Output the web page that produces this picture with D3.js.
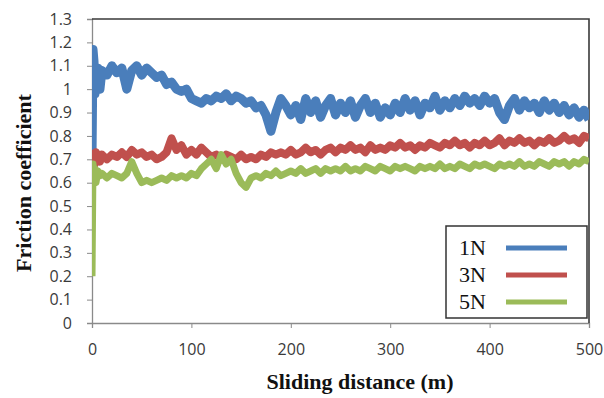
<!DOCTYPE html>
<html>
<head>
<meta charset="utf-8">
<script src="https://cdn.jsdelivr.net/npm/d3@7"></script>
<style>
  body { margin: 0; background: #fff; }
  .title { font-family: "Liberation Serif", "Times New Roman", serif; font-weight: bold; font-size: 22px; fill: #111; }
  .leg { font-family: "Liberation Serif", "Times New Roman", serif; font-size: 22px; fill: #111; }
</style>
</head>
<body>
<svg width="604" height="398"></svg>
<script>
// sliding distance (m), finer at the start where the run-in happens
const distance = [0, 1, 2, 3, 4, 6, 8, 10, 15, 20, 25, 30, 35, 40, 45, 50, 55, 60, 65, 70, 75, 80, 85, 90, 95,
  100, 105, 110, 115, 120, 125, 130, 135, 140, 145, 150, 155, 160, 165, 170, 175, 180, 185, 190, 195,
  200, 205, 210, 215, 220, 225, 230, 235, 240, 245, 250, 255, 260, 265, 270, 275, 280, 285, 290, 295,
  300, 305, 310, 315, 320, 325, 330, 335, 340, 345, 350, 355, 360, 365, 370, 375, 380, 385, 390, 395,
  400, 405, 410, 415, 420, 425, 430, 435, 440, 445, 450, 455, 460, 465, 470, 475, 480, 485, 490, 495, 500];

const mu1N = [0.70, 1.17, 1.12, 0.98, 1.04, 1.09, 1.00, 1.08, 1.06, 1.10, 1.07, 1.09, 1.00, 1.08, 1.10, 1.06, 1.09, 1.07, 1.05, 1.06, 1.02, 1.03, 1.00, 0.99, 1.00,
  0.96, 0.95, 0.94, 0.96, 0.95, 0.97, 0.96, 0.98, 0.95, 0.97, 0.96, 0.94, 0.95, 0.92, 0.93, 0.89, 0.82, 0.90, 0.96, 0.93,
  0.89, 0.93, 0.87, 0.96, 0.90, 0.95, 0.88, 0.93, 0.96, 0.89, 0.94, 0.90, 0.95, 0.88, 0.93, 0.96, 0.90, 0.94, 0.88, 0.92,
  0.89, 0.94, 0.90, 0.96, 0.91, 0.95, 0.89, 0.94, 0.92, 0.97, 0.91, 0.95, 0.92, 0.96, 0.93, 0.97, 0.94, 0.96, 0.93, 0.97,
  0.94, 0.96, 0.90, 0.87, 0.93, 0.96, 0.91, 0.95, 0.92, 0.94, 0.90, 0.95, 0.91, 0.94, 0.90, 0.93, 0.89, 0.92, 0.88, 0.91, 0.87];

const mu3N = [0.74, 0.70, 0.67, 0.69, 0.73, 0.71, 0.69, 0.72, 0.70, 0.72, 0.71, 0.73, 0.71, 0.74, 0.72, 0.73, 0.71, 0.72, 0.70, 0.71, 0.73, 0.79, 0.74, 0.76, 0.72,
  0.74, 0.72, 0.75, 0.73, 0.71, 0.72, 0.70, 0.72, 0.71, 0.70, 0.72, 0.70, 0.71, 0.70, 0.72, 0.71, 0.73, 0.72, 0.73, 0.72,
  0.74, 0.72, 0.73, 0.75, 0.73, 0.74, 0.72, 0.74, 0.75, 0.73, 0.75, 0.74, 0.76, 0.74, 0.75, 0.73, 0.76, 0.74, 0.75, 0.74,
  0.76, 0.75, 0.77, 0.75, 0.76, 0.74, 0.76, 0.75, 0.77, 0.76, 0.75, 0.77, 0.76, 0.78, 0.76, 0.77, 0.75, 0.77, 0.76, 0.78,
  0.76, 0.77, 0.79, 0.76, 0.78, 0.77, 0.79, 0.77, 0.78, 0.76, 0.78, 0.77, 0.79, 0.77, 0.78, 0.80, 0.78, 0.79, 0.77, 0.80, 0.79];

const mu5N = [0.20, 0.68, 0.62, 0.66, 0.60, 0.65, 0.63, 0.64, 0.62, 0.64, 0.63, 0.62, 0.64, 0.69, 0.64, 0.60, 0.61, 0.60, 0.61, 0.62, 0.61, 0.63, 0.62, 0.63, 0.62,
  0.64, 0.63, 0.66, 0.68, 0.70, 0.66, 0.72, 0.68, 0.70, 0.64, 0.60, 0.58, 0.62, 0.63, 0.62, 0.64, 0.63, 0.65, 0.63, 0.64,
  0.65, 0.64, 0.66, 0.64, 0.65, 0.66, 0.64, 0.66, 0.65, 0.66, 0.65, 0.67, 0.65, 0.66, 0.65, 0.67, 0.66, 0.65, 0.67, 0.66,
  0.65, 0.67, 0.66, 0.67, 0.66, 0.65, 0.67, 0.66, 0.67, 0.66, 0.68, 0.66, 0.67, 0.66, 0.68, 0.67, 0.66, 0.68, 0.67, 0.68,
  0.67, 0.66, 0.68, 0.67, 0.68, 0.67, 0.69, 0.67, 0.68, 0.67, 0.69, 0.68, 0.67, 0.69, 0.68, 0.69, 0.67, 0.69, 0.68, 0.70, 0.69];

const seriesNames = ['1N', '3N', '5N'];
const seriesColors = ['#4a7ebb', '#c0504d', '#9bbb59'];
const seriesWidths = [9, 8, 7];
const yTicks = [0, 0.1, 0.2, 0.3, 0.4, 0.5, 0.6, 0.7, 0.8, 0.9, 1, 1.1, 1.2, 1.3];
const xTicks = [0, 100, 200, 300, 400, 500];

const svg = d3.select('svg');
const margin = {top: 19, right: 15, bottom: 75, left: 92};
const innerWidth = 604 - margin.left - margin.right;
const innerHeight = 398 - margin.top - margin.bottom;

const xScale = d3.scaleLinear().domain([0, 500]).range([0, innerWidth]);
const yScale = d3.scaleLinear().domain([0, 1.3]).range([innerHeight, 0]);

const g = svg.append('g')
  .attr('transform', `translate(${margin.left}, ${margin.top})`);

g.append('clipPath').attr('id', 'plot')
  .append('rect').attr('width', innerWidth).attr('height', innerHeight);

// y axis
const yAxis = g.append('g')
  .call(d3.axisLeft(yScale).tickValues(yTicks).tickSize(5).tickPadding(15)
    .tickFormat(d => String(+d.toFixed(1))));
yAxis.select('.domain').attr('stroke', '#8a8a8a').attr('stroke-width', 1.3);
yAxis.selectAll('.tick line').attr('stroke', '#8a8a8a');

// x axis
const xAxis = g.append('g')
  .attr('transform', `translate(0, ${innerHeight})`)
  .call(d3.axisBottom(xScale).tickValues(xTicks).tickSize(5).tickPadding(16));
xAxis.select('.domain').attr('stroke', '#8a8a8a').attr('stroke-width', 1.3);
xAxis.selectAll('.tick line').attr('stroke', '#8a8a8a');

[yAxis, xAxis].forEach(a => a.selectAll('text')
  .style('font-family', '"Open Sans", sans-serif')
  .style('font-size', '16px')
  .style('fill', '#3a3a3a'));

// top and right frame
g.append('path')
  .attr('d', `M0,0H${innerWidth}V${innerHeight}`)
  .attr('fill', 'none').attr('stroke', '#3a3a3a').attr('stroke-width', 1.6);

const series = [mu1N, mu3N, mu5N];
const line = d3.line()
  .x((d, i) => xScale(distance[i]))
  .y(d => yScale(d));

g.append('g').attr('clip-path', 'url(#plot)')
  .selectAll('path').data(series).enter().append('path')
  .attr('d', line)
  .attr('fill', 'none')
  .attr('stroke', (d, i) => seriesColors[i])
  .attr('stroke-width', (d, i) => seriesWidths[i])
  .attr('stroke-linejoin', 'round');

// legend
const leg = svg.append('g').attr('transform', 'translate(446, 226)');
leg.append('rect').attr('width', 141).attr('height', 92)
  .attr('fill', '#fff').attr('stroke', '#333').attr('stroke-width', 1.5);
seriesNames.forEach((name, i) => {
  leg.append('text').attr('class', 'leg')
    .attr('x', 13).attr('y', 29 + i * 27).text(name);
  leg.append('line')
    .attr('x1', 60).attr('x2', 121)
    .attr('y1', 22 + i * 27).attr('y2', 22 + i * 27)
    .attr('stroke', seriesColors[i]).attr('stroke-width', 5);
});

// axis titles
svg.append('text').attr('class', 'title')
  .attr('text-anchor', 'middle')
  .attr('x', 360).attr('y', 389)
  .text('Sliding distance (m)');

svg.append('text').attr('class', 'title')
  .attr('text-anchor', 'middle')
  .attr('transform', 'translate(31, 183) rotate(-90)')
  .text('Friction coefficient');
</script>
</body>
</html>
